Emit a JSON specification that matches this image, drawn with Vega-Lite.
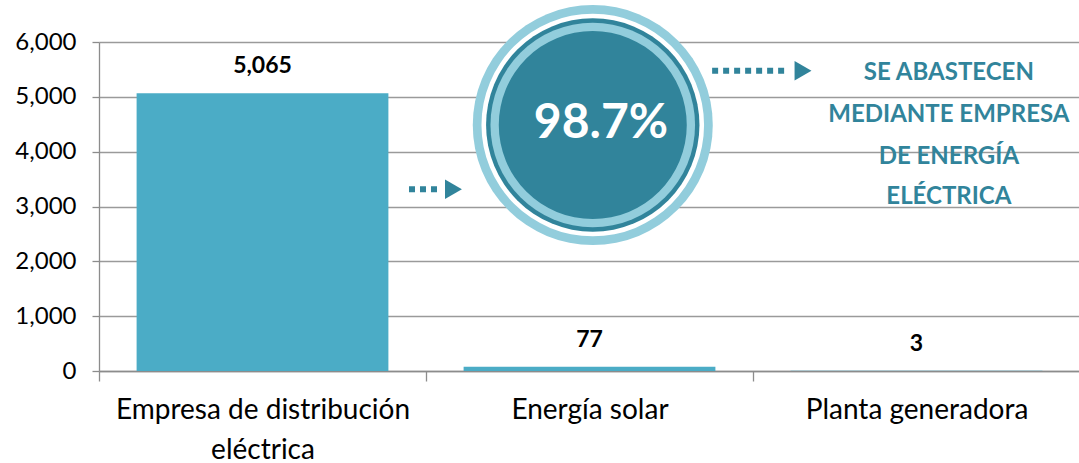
{
  "$schema": "https://vega.github.io/schema/vega-lite/v6.json",
  "width": 981,
  "height": 329,
  "autosize": {"type": "none"},
  "padding": {"left": 99, "top": 42, "right": 0, "bottom": 92},
  "config": {"view": {"stroke": null}, "font": "Lato"},
  "datasets": {
    "bars": [
      {"cat": "Empresa de distribución eléctrica", "v": 5065},
      {"cat": "Energía solar", "v": 77},
      {"cat": "Planta generadora", "v": 3}
    ],
    "badge": [{"u": 1.51, "y": 4486}],
    "badgeText": [{"u": 1.535, "y": 4504, "t": "98.7%"}],
    "arrows": [
      {"u": 0.948, "u2": 1.034, "y": 3314},
      {"u": 1.875, "u2": 2.104, "y": 5477}
    ],
    "heads": [
      {"u": 1.084, "y": 3314},
      {"u": 2.153, "y": 5477}
    ],
    "note": [
      {"u": 2.599, "y": 5429, "t": "SE ABASTECEN"},
      {"u": 2.599, "y": 4669, "t": "MEDIANTE EMPRESA"},
      {"u": 2.599, "y": 3903, "t": "DE ENERGÍA"},
      {"u": 2.599, "y": 3173, "t": "ELÉCTRICA"}
    ]
  },
  "layer": [
    {
      "data": {"name": "bars"},
      "encoding": {
        "x": {
          "field": "cat", "type": "nominal", "sort": null,
          "scale": {"paddingInner": 0, "paddingOuter": 0},
          "axis": {
            "title": null, "labelAngle": 0, "labelFontSize": 28, "labelColor": "#000000",
            "labelFont": "Lato", "labelPadding": 15, "tickBand": "extent", "tickSize": 10,
            "tickColor": "#8c8c8c", "tickWidth": 1.3, "domainColor": "#8c8c8c", "domainWidth": 1.3,
            "labelLineHeight": 40, "labelLimit": 0,
            "labelExpr": "datum.value == 'Empresa de distribución eléctrica' ? ['Empresa de distribución', 'eléctrica'] : datum.value"
          }
        },
        "y": {
          "field": "v", "type": "quantitative",
          "scale": {"domain": [0, 6000], "nice": false},
          "axis": {
            "title": null, "values": [0, 1000, 2000, 3000, 4000, 5000, 6000], "format": ",.0f",
            "labelFontSize": 24, "labelColor": "#000000", "labelFont": "Lato", "labelPadding": 16,
            "tickSize": 7, "tickColor": "#8c8c8c", "tickWidth": 1.3,
            "domainColor": "#8c8c8c", "domainWidth": 1.3,
            "grid": true, "gridColor": "#9a9a9a", "gridWidth": 1.3
          }
        }
      },
      "layer": [
        {"mark": {"type": "bar", "color": "#4BACC6", "width": {"band": 0.77}}},
        {
          "mark": {"type": "text", "fontWeight": "bold", "fontSize": 23, "dy": -20, "baseline": "alphabetic", "color": "#000000"},
          "encoding": {"text": {"field": "v", "type": "quantitative", "format": ",.0f"}}
        }
      ]
    },
    {
      "encoding": {
        "x": {"field": "u", "type": "quantitative", "scale": {"domain": [0, 3], "nice": false}, "axis": null},
        "y": {"field": "y", "type": "quantitative", "scale": {"domain": [0, 6000], "nice": false}, "axis": null}
      },
      "layer": [
        {"data": {"name": "badge"}, "mark": {"type": "point", "shape": "circle", "filled": true, "opacity": 1, "color": "#92CDDC", "size": 57600}},
        {"data": {"name": "badge"}, "mark": {"type": "point", "shape": "circle", "filled": true, "opacity": 1, "color": "#ffffff", "size": 49550}},
        {"data": {"name": "badge"}, "mark": {"type": "point", "shape": "circle", "filled": true, "opacity": 1, "color": "#31849B", "size": 45540}},
        {"data": {"name": "badge"}, "mark": {"type": "point", "shape": "circle", "filled": true, "opacity": 1, "color": "#92CDDC", "size": 41860}},
        {"data": {"name": "badge"}, "mark": {"type": "point", "shape": "circle", "filled": true, "opacity": 1, "color": "#31849B", "size": 35344}},
        {
          "data": {"name": "badgeText"},
          "mark": {"type": "text", "fontWeight": "bold", "fontSize": 48, "color": "#ffffff", "baseline": "middle", "align": "center"},
          "encoding": {"text": {"field": "t"}}
        },
        {
          "data": {"name": "arrows"},
          "mark": {"type": "rule", "color": "#31849B", "strokeWidth": 6, "strokeDash": [6, 5], "strokeCap": "butt"},
          "encoding": {"x2": {"field": "u2"}}
        },
        {
          "data": {"name": "heads"},
          "mark": {"type": "point", "shape": "triangle-right", "filled": true, "opacity": 1, "color": "#31849B", "size": 380}
        },
        {
          "data": {"name": "note"},
          "mark": {"type": "text", "fontWeight": "bold", "fontSize": 24, "color": "#31849B", "baseline": "middle", "align": "center"},
          "encoding": {"text": {"field": "t"}}
        }
      ]
    }
  ],
  "resolve": {"scale": {"x": "independent", "y": "independent"}}
}
